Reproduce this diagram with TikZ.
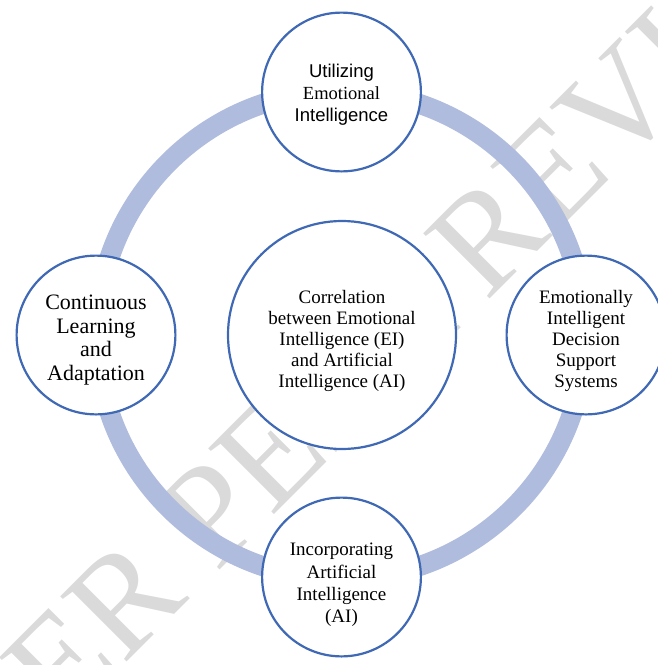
\documentclass[tikz,border=0pt]{standalone}
\usepackage{fontspec}
\setmainfont{Liberation Serif}
\setsansfont{Liberation Sans}
\definecolor{ringc}{HTML}{AFBCDE}
\definecolor{edgec}{HTML}{3F68B5}
\definecolor{wmark}{HTML}{DADADA}
\begin{document}
\begin{tikzpicture}[x=1pt,y=-1pt,
  bubble/.style={circle, draw=edgec, line width=2.2pt, fill=white, minimum size=158.8pt, inner sep=0pt},
  hub/.style={bubble, minimum size=228pt},
  txt/.style={inner sep=0pt, align=center, text=black}]
\useasboundingbox (0,0) rectangle (657,665);
\begin{scope}
\clip (0,0) rectangle (657,665);
\node[rotate=45, inner sep=0pt, text=wmark, font=\fontsize{142}{142}\selectfont] (wm) at (329,396) {UNDER PEER REVIEW};
\end{scope}
\draw[ringc, line width=20pt] (341,335) circle[radius=244pt];
\node[hub] (c) at (342,335) {};
\node[bubble] (t) at (341.5,92) {};
\node[bubble] (l) at (96,335) {};
\node[bubble] (r) at (586,335) {};
\node[bubble] (b) at (341.5,577) {};
\node[txt, font=\fontsize{19}{21}\selectfont] (ct) at ([yshift=-6pt]c.center) {Correlation\\between Emotional\\Intelligence (EI)\\and Artificial\\Intelligence (AI)};
\node[txt, font=\sffamily\fontsize{18.5}{22}\selectfont] (tt) at ([yshift=-3pt]t.center) {Utilizing\\{\rmfamily Emotional}\\Intelligence};
\node[txt, font=\fontsize{22}{23.6}\selectfont] (lt) at ([yshift=-5pt]l.center) {Continuous\\Learning\\and\\Adaptation};
\node[txt, font=\fontsize{19}{21}\selectfont] (rt) at ([yshift=-6pt]r.center) {Emotionally\\Intelligent\\Decision\\Support\\Systems};
\node[txt, font=\fontsize{19}{22.3}\selectfont] (bt) at ([yshift=-8pt]b.center) {Incorporating\\Artificial\\Intelligence\\(AI)};
\end{tikzpicture}
\end{document}
